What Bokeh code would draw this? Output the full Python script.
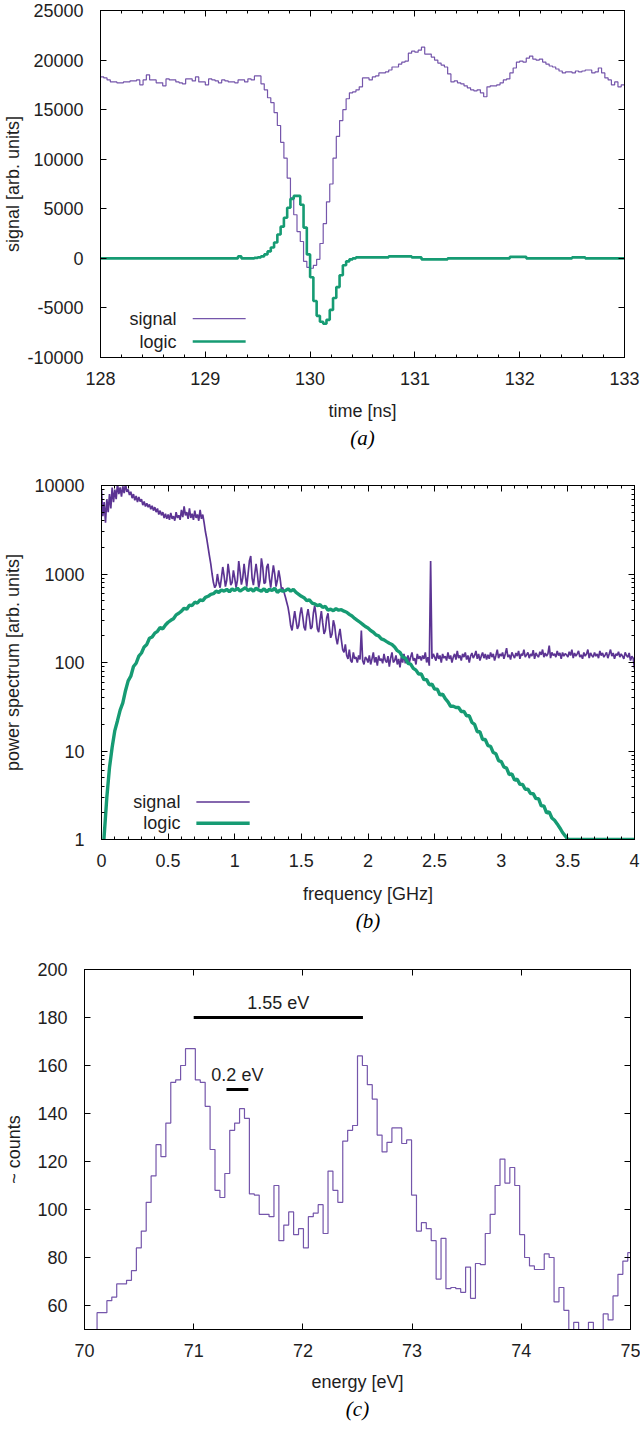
import numpy as np
from bokeh.plotting import figure
from bokeh.models import (Range1d, LinearAxis, LogAxis, SingleIntervalTicker, LogTicker,
                          Label, Title, CustomJSTickFormatter)
from bokeh.embed import file_html
from bokeh.resources import INLINE

# ---------------- DATA ----------------
# (a) time trace, samples every 1/32 ns starting at 128 ns
time_start_a = 128.0
time_step_a = 1.0 / 32.0
signal_a = [
    18300, 18200, 18000, 17800, 17800, 17700, 17700, 17800, 17800, 17900, 17900, 18000, 17500, 18000, 18500, 18000,
    18000, 17700, 17700, 17400, 18100, 18000, 18000, 17800, 17700, 17600, 18100, 18100, 17900, 18300, 17800, 17800,
    17500, 18100, 18000, 17900, 17700, 18000, 17900, 17800, 17800, 17700, 18000, 18000, 17800, 18100, 18000, 18400,
    18400, 17600, 17000, 16200, 15700, 14700, 13400, 11700, 10100, 8100, 6100, 4400, 2700, 1700, -300, -900,
    -1000, -700, -100, 1500, 3500, 5700, 7500, 10100, 12300, 13900, 15000, 16100, 16700, 16800, 17000, 17300,
    18200, 18200, 18000, 18300, 18400, 18700, 18700, 18800, 19000, 19300, 19300, 19600, 19800, 19900, 20700, 20900,
    20800, 21000, 21300, 20600, 20600, 20300, 20000, 19700, 19500, 19300, 18600, 17800, 17900, 17700, 17600, 17400,
    17200, 17000, 16900, 17000, 16700, 16300, 17300, 17400, 17400, 17500, 17700, 18000, 18100, 18700, 19200, 19800,
    19900, 19800, 20200, 20400, 20100, 20000, 20100, 19800, 19600, 19400, 19300, 19100, 18900, 18700, 18800, 18800,
    18700, 18900, 18800, 18900, 19000, 19000, 18700, 18800, 19200, 18700, 18200, 18000, 17500, 17800, 17300, 17500,
]
logic_a = [
    0, 0, 0, 0, 0, 0, 0, 0, 0, 0, 0, 0, 0, 0, 0, 0,
    0, 0, 0, 0, 0, 0, 0, 0, 0, 0, 0, 0, 0, 0, 0, 0,
    0, 0, 0, 0, 0, 0, 0, 0, 0, 0, 200, 0, 0, 0, 0, 50,
    100, 200, 400, 700, 1100, 1600, 2400, 3200, 4100, 5100, 6000, 6300, 6300, 5400, 3100, 400,
    -1900, -4300, -5800, -6400, -6600, -6200, -5200, -4000, -2900, -1700, -700, -300, -100, 0, 100, 100,
    100, 100, 100, 100, 100, 100, 100, 100, 200, 200, 200, 200, 200, 200, 200, 100,
    100, 100, -100, -100, -100, -100, -100, -100, -100, -100, 0, 0, 0, 0, 0, 0,
    0, 0, 0, 0, 0, 0, 0, 0, 0, 0, 0, 0, 0, 150, 150, 150,
    150, 150, 0, 0, 0, 0, 0, 0, 0, 0, 0, 0, 0, 0, 0, 0,
    100, 100, 100, 100, 0, 0, 0, 0, 0, 0, 0, 0, 0, 0, 0, 0,
]

# (b) power spectra
freq_step_signal = 0.01
spectrum_signal = [
    9000, 4500, 6500, 3800, 7000, 5000, 8000, 5500, 9500, 6500,
    9000, 7000, 10500, 8000, 9500, 7500, 9800, 8200, 10500, 8500,
    9000, 7800, 8500, 7200, 8000, 6800, 7600, 6500, 7400, 6600,
    7000, 6000, 6600, 5800, 6300, 5700, 6100, 5400, 5900, 5200,
    5700, 5000, 5500, 4700, 5200, 4600, 5000, 4300, 4800, 4200,
    4700, 4100, 4900, 4200, 4500, 4000, 5000, 4300, 4600, 4100,
    5300, 4400, 5800, 4600, 5000, 4200, 5500, 4300, 4800, 4100,
    5200, 4300, 4700, 4000, 5300, 4200, 4700, 3800, 3000, 2500,
    2000, 1600, 1300, 1000, 800, 700, 750, 1000, 800, 700,
    900, 1200, 950, 720, 850, 1300, 1000, 750, 800, 1100,
    900, 700, 850, 1400, 1050, 760, 900, 1300, 950, 720,
    1000, 1400, 1600, 900, 750, 1000, 1300, 1000, 700, 850,
    1500, 1200, 780, 800, 1200, 1300, 900, 700, 950, 1250,
    1000, 720, 850, 1100, 900, 680, 700, 620, 550, 480,
    420, 340, 260, 230, 300, 380, 300, 240, 260, 350,
    420, 330, 250, 230, 330, 400, 320, 240, 250, 360,
    440, 340, 240, 220, 300, 380, 280, 210, 230, 320,
    360, 250, 190, 210, 300, 260, 190, 160, 200, 240,
    180, 140, 130, 160, 120, 110, 140, 105, 100, 130,
    110, 115, 100, 120, 108, 230, 105, 95, 115, 110,
    100, 120, 95, 110, 130, 100, 115, 92, 120, 105,
    110, 98, 125, 105, 100, 118, 90, 112, 130, 100,
    105, 120, 95, 110, 88, 115, 100, 125, 98, 108,
    120, 100, 115, 130, 105, 112, 95, 125, 110, 118,
    105, 120, 110, 130, 100, 115, 92, 1400, 110, 125,
    115, 105, 128, 110, 120, 100, 125, 112, 118, 105,
    130, 110, 120, 100, 115, 125, 108, 135, 112, 120,
    105, 125, 115, 130, 108, 120, 100, 118, 128, 112,
    120, 135, 110, 125, 105, 118, 130, 112, 125, 108,
    122, 110, 130, 115, 125, 105, 120, 140, 112, 125,
    118, 130, 110, 125, 145, 115, 122, 108, 130, 120,
    112, 128, 118, 135, 110, 125, 120, 140, 115, 122,
    130, 112, 125, 118, 138, 110, 128, 120, 115, 132,
    122, 140, 115, 128, 118, 125, 155, 112, 130, 120,
    125, 115, 135, 120, 128, 110, 130, 118, 126, 122,
    115, 132, 120, 140, 112, 128, 118, 125, 135, 115,
    122, 110, 130, 118, 125, 140, 112, 128, 120, 115,
    130, 118, 125, 112, 135, 120, 128, 115, 122, 130,
    112, 125, 140, 118, 128, 110, 125, 120, 132, 115,
    125, 118, 110, 130, 120, 115, 128, 105, 118, 112,
    85,
]
freq_step_logic = 0.02
spectrum_logic = [
    0.4, 1.1, 3.0, 6.5, 11, 17, 22, 29, 35, 48,
    62, 70, 90, 98, 118, 128, 150, 160, 188, 194,
    215, 225, 248, 240, 265, 285, 300, 312, 345, 360,
    380, 410, 400, 445, 440, 480, 470, 510, 500, 545,
    560, 590, 600, 640, 620, 660, 640, 670, 630, 680,
    650, 690, 640, 670, 700, 650, 680, 640, 690, 660,
    640, 680, 630, 670, 650, 690, 620, 660, 640, 650,
    680, 640, 670, 620, 590, 560, 540, 500, 510, 470,
    460, 440, 450, 420, 430, 390, 400, 385, 405, 390,
    395, 380, 370, 350, 335, 315, 300, 285, 270, 255,
    245, 230, 220, 205, 200, 185, 180, 172, 165, 160,
    150, 136, 130, 115, 112, 98, 96, 86, 82, 74,
    74, 64, 64, 56, 57, 50, 50, 43, 44, 39,
    36, 32, 32, 31, 31, 28, 28, 25, 25, 21,
    20, 16.5, 16.5, 13.5, 13.5, 11.5, 11.3, 9.6, 9.3, 7.8,
    7.6, 6.6, 6.4, 5.4, 5.5, 4.7, 4.8, 4.2, 4.2, 3.7,
    3.7, 3.3, 3.3, 2.9, 2.9, 2.4, 2.4, 2.0, 2.05, 1.75,
    1.65, 1.5, 1.35, 1.2, 1.1, 1.0, 1.0, 1.0, 1.0, 1.0,
    1.0, 1.0, 1.0, 1.0, 1.0, 1.0, 1.0, 1.0, 1.0, 1.0,
    1.0, 1.0, 1.0, 1.0, 1.0, 1.0, 1.0, 1.0, 1.0, 1.0,
    1.0,
]

# (c) energy histogram
energy_start_c = 69.98
energy_bin_c = 0.045
counts_c = [
    46, 49, 50,
    57, 57, 62, 63.5, 69, 69, 70.5, 74.5, 84, 91, 103, 114, 127, 122, 136, 153, 154, 160,
    167, 167, 154, 153, 143, 125, 108, 105, 115, 133, 136, 142, 138, 106.5, 106,
    98, 98, 97, 110, 87, 93.5, 99, 89.5, 92, 84, 97, 98.5, 102, 90, 116, 108, 103, 128.5, 133, 135,
    164, 160, 152, 146, 131, 124, 128,
    134, 134, 127.5, 129, 106, 91, 94.5, 92, 87, 71, 88, 67, 67.5, 67, 65.5, 76, 63, 77.5, 77, 90,
    98, 110, 121, 111, 117.5, 110, 89.5, 80, 76.5,
    75, 75, 81.5, 80, 61.5, 67.5, 58, 48, 53, 49, 49, 53, 49, 49, 56.5, 54, 64, 73, 78.5, 82,
]
bar_starts_c = [71.0, 71.3]
bar_ends_c = [72.55, 71.5]
bar_levels_c = [180, 150]
bar_texts_c = ["1.55 eV", "0.2 eV"]

series_names = ["signal", "logic"]
captions = ["(a)", "(b)", "(c)"]

# ---------------- STYLE ----------------
PURPLE = "#7556ab"
PURPLE_B = "#5c3493"
GREEN = "#169b73"
FONT = "Liberation Sans"
FS = "18px"
TXT = "#1e1e1e"

NUM_FMT = "var r = Math.round(tick*1000)/1000; return r.toString();"


def style_axis(ax, label, standoff, label_standoff, minor=True):
    ax.major_tick_in = 6
    ax.major_tick_out = 0
    ax.minor_tick_in = 3 if minor else 0
    ax.minor_tick_out = 0
    ax.axis_line_color = "black"
    ax.major_tick_line_color = "black"
    ax.minor_tick_line_color = "black"
    ax.major_label_text_font = FONT
    ax.major_label_text_font_size = FS
    ax.major_label_text_color = TXT
    ax.major_label_standoff = standoff
    ax.formatter = CustomJSTickFormatter(code=NUM_FMT)
    ax.axis_label = label
    ax.axis_label_text_font = FONT
    ax.axis_label_text_font_size = FS
    ax.axis_label_text_font_style = "normal"
    ax.axis_label_text_color = TXT
    ax.axis_label_standoff = label_standoff


def mirror(p, xticker, yticker, ylog=False, minor_x=True, minor_y=True):
    top = LinearAxis(ticker=xticker)
    right = LogAxis(ticker=yticker) if ylog else LinearAxis(ticker=yticker)
    for ax, mn in ((top, minor_x), (right, minor_y)):
        ax.formatter = CustomJSTickFormatter(code="return '';")
        ax.major_label_text_font_size = "1px"
        ax.major_label_standoff = 0
        ax.major_tick_in = 6
        ax.major_tick_out = 0
        ax.minor_tick_in = 3 if mn else 0
        ax.minor_tick_out = 0
        ax.axis_line_color = "black"
    p.add_layout(top, "above")
    p.add_layout(right, "right")


def base_fig(xr, yr, fw, fh, left, right, top, bottom, ylog=False):
    p = figure(x_range=Range1d(*xr), y_range=Range1d(*yr), frame_width=fw, frame_height=fh,
               min_border_left=left, min_border_right=right, min_border_top=top,
               min_border_bottom=bottom, output_backend="svg", toolbar_location=None,
               y_axis_type="log" if ylog else "linear", title=None)
    p.grid.visible = False
    p.outline_line_color = "black"
    p.background_fill_color = "white"
    p.border_fill_color = "white"
    return p


def caption(p, text):
    t = Title(text=text, align="center", text_font="Liberation Serif", text_font_style="italic",
              text_font_size="21px", text_color="black", standoff=0)
    p.add_layout(t, "below")


def legend(p, xr, yr, ylog, text_frac_x, line_fracs, row_fracs, widths, colors):
    def X(f):
        return float(xr[0] + f * (xr[1] - xr[0]))

    def Y(f):
        if ylog:
            lo, hi = np.log10(yr[0]), np.log10(yr[1])
            return float(10 ** (lo + f * (hi - lo)))
        return float(yr[0] + f * (yr[1] - yr[0]))

    for name, rf, w, c in zip(series_names, row_fracs, widths, colors):
        p.add_layout(Label(x=X(text_frac_x), y=Y(rf), text=name, text_align="right",
                           text_baseline="middle", text_font=FONT, text_font_size=FS,
                           text_color=TXT))
        p.line([X(line_fracs[0]), X(line_fracs[1])], [Y(rf), Y(rf)], line_color=c, line_width=w)


# ---------------- PANEL (a) ----------------
xr_a, yr_a = (128, 133), (-10000, 25000)
pa = base_fig(xr_a, yr_a, 524, 347, 100, 16, 10, 113)
xt_a = SingleIntervalTicker(interval=1, num_minor_ticks=5)
yt_a = SingleIntervalTicker(interval=5000, num_minor_ticks=0)
pa.xaxis.ticker = xt_a
pa.yaxis.ticker = yt_a
style_axis(pa.xaxis[0], "time [ns]", standoff=14, label_standoff=13)
style_axis(pa.yaxis[0], "signal [arb. units]", standoff=17, label_standoff=1, minor=False)
mirror(pa, xt_a, yt_a, minor_y=False)
t_a = time_start_a + time_step_a * np.arange(len(signal_a) + 1)
pa.step(t_a, signal_a + signal_a[-1:], mode="after", line_color=PURPLE, line_width=1.2)
pa.step(t_a, logic_a + logic_a[-1:], mode="after", line_color=GREEN, line_width=2.6)
legend(pa, xr_a, yr_a, False, 0.145, (0.176, 0.277), (0.112, 0.046), (1.2, 2.6), (PURPLE, GREEN))
caption(pa, captions[0])

# ---------------- PANEL (b) ----------------
xr_b, yr_b = (0, 4), (1, 10000)
pb = base_fig(xr_b, yr_b, 533, 354, 101, 6, 15, 111, ylog=True)
xt_b = SingleIntervalTicker(interval=0.5, num_minor_ticks=5)
yt_b = LogTicker(num_minor_ticks=10)
pb.xaxis.ticker = xt_b
pb.yaxis.ticker = yt_b
style_axis(pb.xaxis[0], "frequency [GHz]", standoff=14, label_standoff=14)
style_axis(pb.yaxis[0], "power spectrum [arb. units]", standoff=17, label_standoff=8)
mirror(pb, xt_b, yt_b, ylog=True)
f_sig = freq_step_signal * np.arange(len(spectrum_signal))
f_log = freq_step_logic * np.arange(len(spectrum_logic))
pb.line(f_sig, spectrum_signal, line_color=PURPLE_B, line_width=1.7)
pb.line(f_log, spectrum_logic, line_color=GREEN, line_width=3.4)
legend(pb, xr_b, yr_b, True, 0.148, (0.178, 0.278), (0.106, 0.046), (1.7, 3.4), (PURPLE_B, GREEN))
caption(pb, captions[1])

# ---------------- PANEL (c) ----------------
xr_c, yr_c = (70, 75), (50, 200)
pc = base_fig(xr_c, yr_c, 546, 360, 84, 10, 19, 110)
xt_c = SingleIntervalTicker(interval=1, num_minor_ticks=0)
yt_c = SingleIntervalTicker(interval=20, num_minor_ticks=0)
pc.xaxis.ticker = xt_c
pc.yaxis.ticker = yt_c
style_axis(pc.xaxis[0], "energy [eV]", standoff=14, label_standoff=12, minor=False)
style_axis(pc.yaxis[0], "~ counts", standoff=17, label_standoff=10, minor=False)
mirror(pc, xt_c, yt_c, minor_x=False, minor_y=False)
e_c = energy_start_c + energy_bin_c * np.arange(len(counts_c) + 1)
pc.step(e_c, counts_c + counts_c[-1:], mode="after", line_color=PURPLE, line_width=1.2)
pc.segment(x0=bar_starts_c, y0=bar_levels_c, x1=bar_ends_c, y1=bar_levels_c,
           line_color="black", line_width=3)
for s, e, lv, tx in zip(bar_starts_c, bar_ends_c, bar_levels_c, bar_texts_c):
    pc.add_layout(Label(x=(s + e) / 2, y=lv, text=tx, text_align="center", text_baseline="bottom",
                        y_offset=5, text_font=FONT, text_font_size=FS, text_color=TXT))
caption(pc, captions[2])

# separate roots so each panel keeps its own frame position
open("out.html", "w").write(file_html([pa, pb, pc], INLINE))
